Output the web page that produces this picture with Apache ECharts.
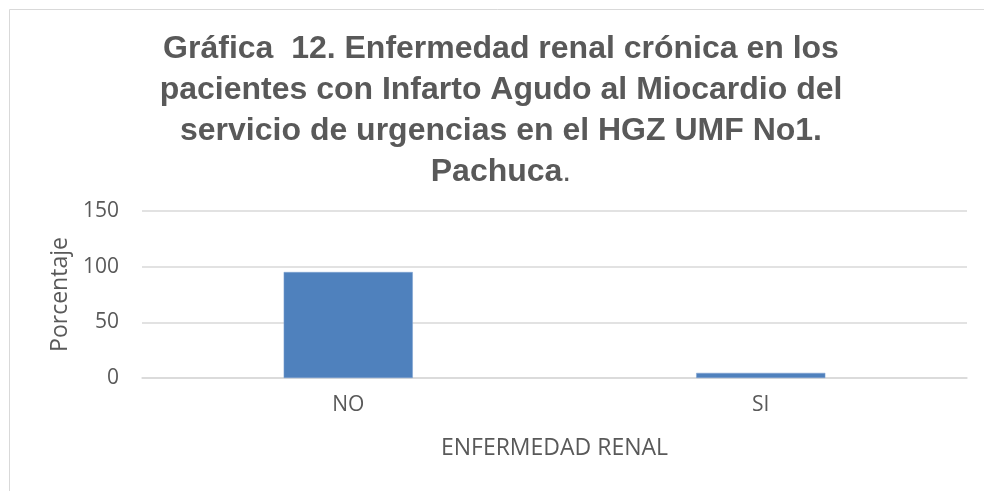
<!DOCTYPE html>
<html>
<head>
<meta charset="utf-8">
<script src="https://cdn.jsdelivr.net/npm/echarts@6/dist/echarts.min.js"></script>
<style>
  html, body { margin: 0; padding: 0; background: #fff; }
  #main { width: 984px; height: 491px; }
</style>
</head>
<body>
<div id="main"></div>
<script>
// datos de la gráfica
var categorias = ['NO', 'SI'];
var porcentajes = [95.2, 4.6];
var ticksY = [0, 50, 100, 150];

var myChart = echarts.init(document.getElementById('main'));

var option = {
    backgroundColor: '#fff',
    graphic: [{
        type: 'rect',
        shape: { x: 9.5, y: 9.5, width: 1000, height: 600 },
        style: { fill: 'none', stroke: '#d9d9d9', lineWidth: 1 },
        silent: true
    }],
    title: {
        left: 496,
        top: 24,
        textAlign: 'center',
        text: 'Gráfica  12. Enfermedad renal crónica en los\npacientes con Infarto Agudo al Miocardio del\nservicio de urgencias en el HGZ UMF No1.\n{b|Pachuca}{n|.}',
        textStyle: {
            fontFamily: 'Arial',
            fontWeight: 'bold',
            fontSize: 32,
            lineHeight: 41,
            color: '#595959',
            rich: {
                b: { fontFamily: 'Arial', fontWeight: 'bold', fontSize: 32, color: '#595959', lineHeight: 41 },
                n: { fontFamily: 'Arial', fontWeight: 'normal', fontSize: 32, color: '#595959', lineHeight: 41 }
            }
        }
    },
    grid: { left: 142, right: 17, top: 211, bottom: 113, containLabel: false },
    xAxis: {
        type: 'category',
        data: categorias,
        name: 'ENFERMEDAD RENAL',
        nameLocation: 'middle',
        nameGap: 59,
        nameTextStyle: { fontFamily: 'Open Sans', fontSize: 23, color: '#595959' },
        axisLine: { lineStyle: { color: '#d9d9d9', width: 1.5 } },
        axisTick: { show: false },
        axisLabel: { fontFamily: 'Open Sans', fontSize: 21, color: '#595959', margin: 17 }
    },
    yAxis: {
        type: 'value',
        min: ticksY[0],
        max: ticksY[ticksY.length - 1],
        interval: 50,
        name: 'Porcentaje',
        nameLocation: 'middle',
        nameGap: 70,
        nameTextStyle: { fontFamily: 'Open Sans', fontSize: 23, color: '#595959' },
        axisLine: { show: false },
        axisTick: { show: false },
        axisLabel: { fontFamily: 'Open Sans', fontSize: 21, color: '#595959', margin: 23 },
        splitLine: { lineStyle: { color: '#d9d9d9', width: 1.5 } }
    },
    series: [{
        type: 'bar',
        data: porcentajes,
        barWidth: '31.3%',
        itemStyle: { color: '#4f81bd', borderColor: '#7ea3d3', borderWidth: 0.5 }
    }]
};

myChart.setOption(option);
</script>
</body>
</html>
